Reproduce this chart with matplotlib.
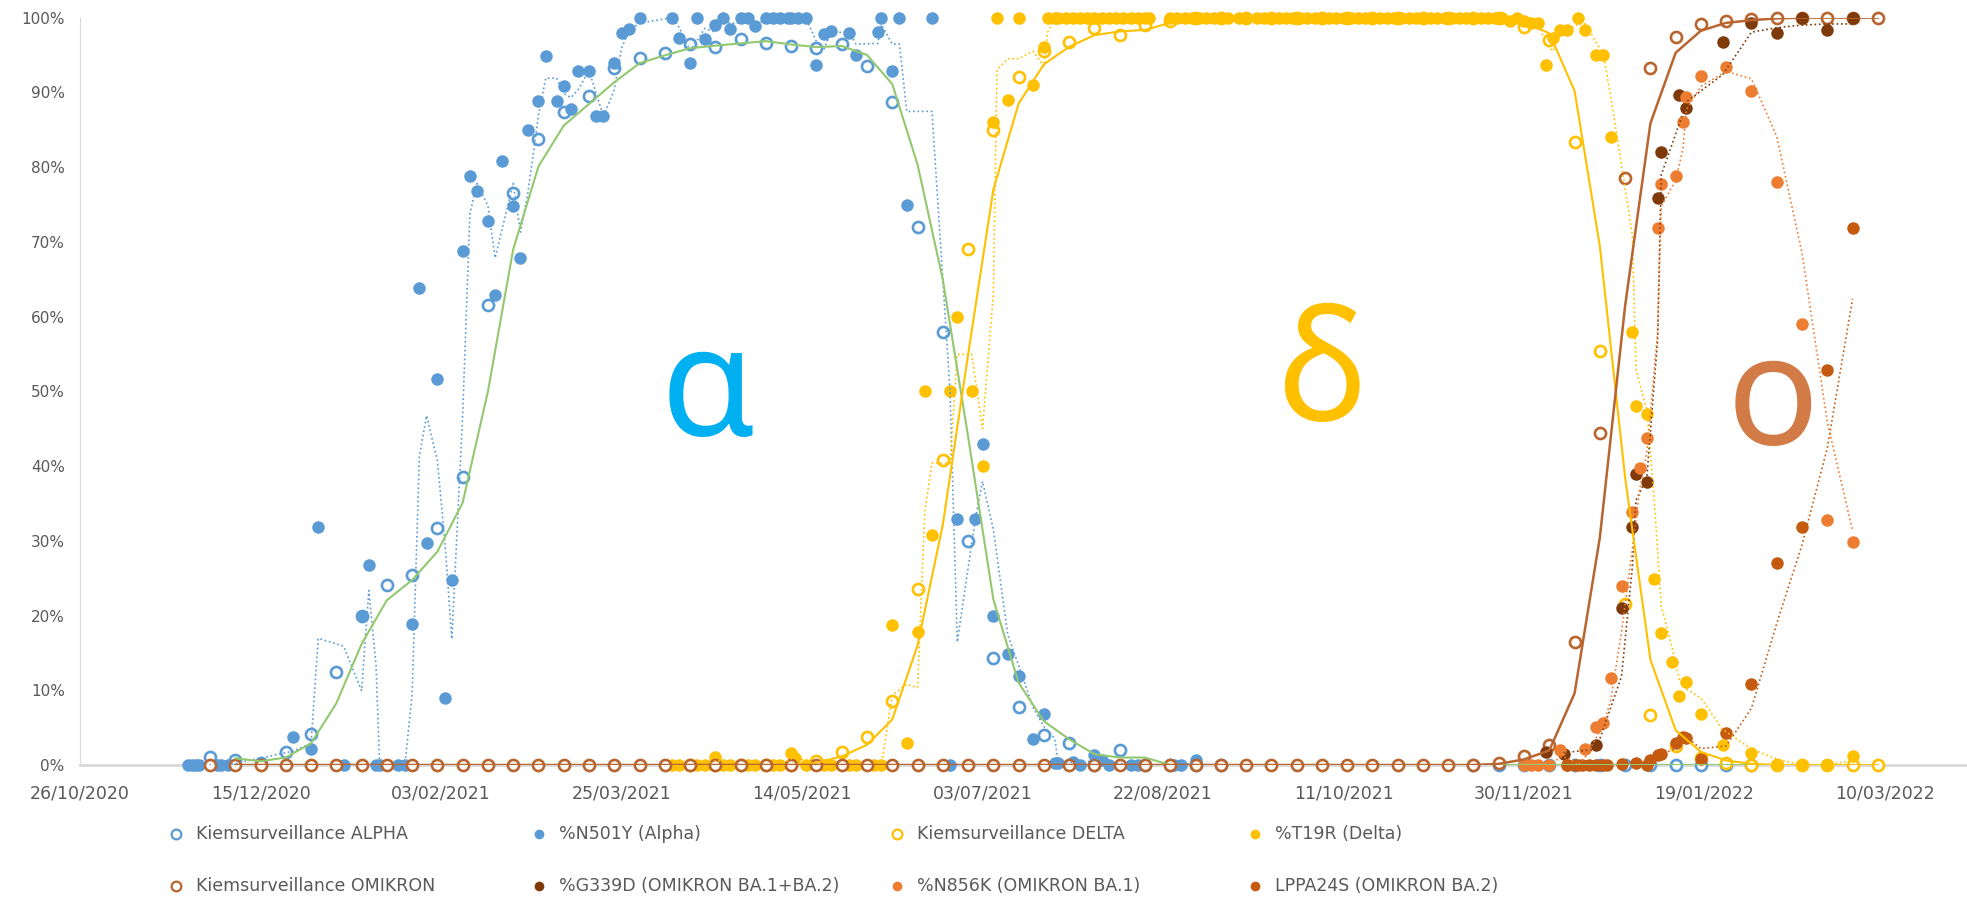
import matplotlib
matplotlib.use('Agg')
import matplotlib.pyplot as plt
import matplotlib.dates as mdates
from matplotlib.lines import Line2D
import numpy as np
import pandas as pd

nan = np.nan

# weekly Kiemsurveillance samples, first one on 01/12/2020
start = pd.Timestamp('2020-12-01')
kiem_dates = pd.date_range(start, periods=67, freq='7D')

kiem_alpha = [1.1, 0.7, 0.3, 1.7, 4.1, 12.4, 20.0, 24.1, 25.4, 31.7,
              38.5, 61.5, 76.5, 83.7, 87.4, 89.5, 93.2, 94.6, 95.3, 96.5,
              96.0, 97.1, 96.6, 96.2, 95.9, 96.5, 93.5, 88.7, 72.0, 57.9,
              30.0, 14.3, 7.7, 4.0, 2.9, 0.0, 2.0, 0, 0, 0,
              0, nan, nan, nan, nan, nan, nan, nan, nan, nan,
              0, 0, 0, 0, 0, 0, 0, 0, 0, 0,
              0, 0, nan, nan, nan, nan, nan]

kiem_delta = [nan, nan, nan, nan, nan, nan, nan, nan, nan, nan,
              nan, nan, nan, nan, nan, nan, nan, nan, nan, 0,
              0, 0, 0, 0, 0.6, 1.7, 3.7, 8.5, 23.5, 40.8,
              69.0, 85.0, 92.0, 95.5, 96.7, 98.6, 97.7, 99.0, 99.6, 100,
              100, 100, 100, 100, 100, 100, 100, 100, 100, 100,
              100, 100, 98.8, 97.0, 83.4, 55.4, 21.5, 6.7, 2.6, 0.9,
              0.3, 0, 0, 0, 0, 0, 0]

kiem_omikron = [0] * 51 + [0.3, 1.2, 2.7, 16.5, 44.4, 78.5, 93.2, 97.4, 99.1,
                           99.5, 99.8, 100, 100, 100, 100, 100]

# (days after 01/12/2020, %)
n501y = [(-6, 0), (-5, 0), (-4, 0), (-3, 0), (2, 0), (3, 0), (5, 0),
         (23, 3.7), (28, 2.1), (30, 31.8), (37, 0), (42, 19.9), (44, 26.8),
         (46, 0), (47, 0), (52, 0), (54, 0), (56, 18.8), (58, 63.8),
         (60, 29.7), (63, 51.7), (65, 8.9), (67, 24.8), (70, 68.8),
         (72, 78.8), (74, 76.8), (77, 72.8), (79, 62.9), (81, 80.8),
         (84, 74.8), (86, 67.8), (88, 84.9), (91, 88.9), (93, 94.9),
         (96, 88.9), (98, 90.8), (100, 87.8), (102, 92.9), (105, 92.9),
         (107, 86.8), (109, 86.8), (112, 93.9), (114, 97.9), (116, 98.5),
         (119, 100), (128, 100), (130, 97.3), (133, 93.9), (135, 100),
         (137, 97.1), (140, 99.0), (142, 100), (144, 98.5), (147, 100),
         (149, 100), (151, 98.9), (154, 100), (156, 100), (158, 100),
         (160, 100), (161, 100), (163, 100), (165, 100), (168, 93.6),
         (170, 97.8), (172, 98.2), (177, 97.9), (179, 95.0), (185, 98.1),
         (186, 100), (189, 92.9), (191, 100), (193, 74.9), (200, 100),
         (205, 0), (207, 32.9), (212, 32.9), (214, 43.0), (217, 20.0),
         (221, 14.8), (224, 11.9), (228, 3.5), (231, 6.8), (234, 0.3),
         (235, 0.3), (239, 0.4), (241, 0), (245, 1.3), (247, 0.7),
         (249, 0), (255, 0), (257, 0), (267, 0), (269, 0), (273, 0.7)]

t19r = [(128, 0), (130, 0), (133, 0), (135, 0), (137, 0), (140, 1.1),
        (142, 0), (144, 0), (147, 0), (149, 0), (151, 0), (154, 0),
        (156, 0), (158, 0), (161, 1.6), (162, 1.0), (165, 0), (168, 0),
        (170, 0), (172, 0), (175, 0), (177, 0), (179, 0), (182, 0),
        (184, 0), (186, 0), (189, 18.7), (193, 2.9), (196, 17.8),
        (198, 50.0), (200, 30.8), (205, 50.0), (207, 59.9), (211, 50.0),
        (214, 40.0), (217, 86.0), (218, 100), (221, 89.0), (224, 100),
        (228, 91.0), (231, 96.0), (232, 100), (234, 100), (235, 100),
        (237, 100), (239, 100), (241, 100), (243, 100), (245, 100),
        (247, 100), (249, 100), (251, 100), (253, 100), (255, 100),
        (257, 100), (259, 100), (260, 100), (266, 100), (268, 100),
        (270, 100), (272, 100), (274, 100), (276, 100), (278, 100),
        (280, 100), (282, 100), (285, 100), (287, 100), (290, 100),
        (292, 100), (294, 100), (296, 100), (298, 100), (300, 100),
        (302, 100), (304, 100), (306, 100), (308, 100), (310, 100),
        (312, 100), (314, 100), (316, 100), (318, 100), (320, 100),
        (322, 100), (324, 100), (326, 100), (328, 100), (330, 100),
        (332, 100), (334, 100), (336, 100), (338, 100), (340, 100),
        (342, 100), (344, 100), (346, 100), (348, 100), (350, 100),
        (352, 100), (354, 100), (356, 100), (358, 100), (360, 99.6),
        (362, 100), (364, 99.6), (366, 99.3), (368, 99.3), (370, 93.7),
        (372, 97.3), (374, 98.3), (376, 98.3), (379, 100), (381, 98.3),
        (384, 95.0), (386, 95.0), (388, 84.0), (394, 57.9), (395, 48.0),
        (398, 47.0), (400, 24.9), (402, 17.7), (405, 13.8), (407, 9.2),
        (409, 11.1), (413, 6.8), (419, 2.7), (427, 1.6), (434, 0),
        (441, 0), (448, 0), (455, 1.2)]

g339d = [(370, 1.8), (375, 1.5), (384, 2.7), (391, 21.0), (394, 31.9),
         (395, 38.9), (398, 37.9), (401, 75.9), (402, 82.0), (407, 89.6),
         (409, 87.9), (419, 96.8), (427, 99.3), (434, 98.0), (441, 100),
         (448, 98.3), (455, 100)]

n856k = [(364, 0), (366, 0), (368, 0), (371, 0), (374, 2.0), (376, 0),
         (379, 0), (381, 2.2), (384, 5.1), (386, 5.6), (388, 11.7),
         (391, 23.9), (394, 33.8), (396, 39.7), (398, 43.8), (401, 71.8),
         (402, 77.7), (406, 78.8), (408, 86.0), (409, 89.4), (413, 92.2),
         (420, 93.4), (427, 90.2), (434, 78.0), (441, 59.0), (448, 32.8),
         (455, 29.9)]

lppa24s = [(376, 0), (378, 0), (380, 0), (382, 0), (384, 0), (386, 0),
           (387, 0), (391, 0.2), (395, 0.3), (398, 0), (399, 0.7),
           (401, 1.4), (402, 1.5), (406, 2.9), (408, 3.8), (409, 3.6),
           (413, 0.8), (420, 4.3), (427, 10.9), (434, 27.0), (441, 31.9),
           (448, 52.9), (455, 71.8)]

tick_dates = pd.date_range('2020-10-26', periods=11, freq='50D')

BLUE = '#5B9BD5'
YELLOW = '#FFC000'
BROWN = '#B8652F'
DARK = '#7F3A0C'
ORANGE = '#ED7D31'
RUST = '#C55A11'
GREEN = '#92C86E'
GREY = '#595959'


def to_xy(pairs):
    d = np.array([p[0] for p in pairs])
    v = np.array([p[1] for p in pairs], dtype=float)
    return start + pd.to_timedelta(d, unit='D'), v


def ma2(v):
    return pd.Series(v, dtype=float).rolling(2).mean().values


fig = plt.figure(figsize=(19.67, 8.98), dpi=100)
ax = fig.add_axes([80 / 1967, 133 / 898, 1887 / 1967, 747.4 / 898])

open_kw = dict(ls='none', marker='o', ms=8, mfc='white', mew=1.9, clip_on=False)
fill_kw = dict(ls='none', marker='o', ms=9, mew=0, clip_on=False)

ax.plot(kiem_dates, kiem_alpha, mec=BLUE, zorder=3, **open_kw)
x, v = to_xy(n501y)
ax.plot(x, v, color=BLUE, zorder=4, **fill_kw)
ax.plot(x, ma2(v), color=BLUE, ls=':', lw=1.2, zorder=12)

ax.plot(kiem_dates, kiem_delta, mec=YELLOW, zorder=5, **open_kw)
x, v = to_xy(t19r)
ax.plot(x, v, color=YELLOW, zorder=6, **fill_kw)
ax.plot(x, ma2(v), color=YELLOW, ls=':', lw=1.2, zorder=12)

ax.plot(kiem_dates, kiem_omikron, mec=BROWN, zorder=7, **open_kw)
for data, col, z in [(g339d, DARK, 8), (n856k, ORANGE, 9), (lppa24s, RUST, 10)]:
    x, v = to_xy(data)
    ax.plot(x, v, color=col, zorder=z, **fill_kw)
    ax.plot(x, ma2(v), color=col, ls=':', lw=1.2, zorder=12)

# moving average (2) of the Kiemsurveillance series
ax.plot(kiem_dates, ma2(kiem_alpha), color=GREEN, lw=1.5, zorder=13)
ax.plot(kiem_dates, ma2(kiem_delta), color=YELLOW, lw=1.5, zorder=13)
ax.plot(kiem_dates, ma2(kiem_omikron), color=BROWN, lw=1.8, zorder=13)

ax.set_xlim(pd.Timestamp('2020-10-26'), pd.Timestamp('2020-10-26') + pd.Timedelta(days=522.7))
ax.set_ylim(0, 100)
ax.set_xticks(tick_dates)
ax.xaxis.set_major_formatter(mdates.DateFormatter('%d/%m/%Y'))
ax.set_yticks(range(0, 101, 10))
ax.set_yticklabels([f'{t}%' for t in range(0, 101, 10)])
ax.tick_params(axis='x', length=0, pad=14, labelsize=12.5, labelcolor=GREY)
ax.tick_params(axis='y', length=0, pad=11, labelsize=11, labelcolor=GREY)
for s in ['top', 'right']:
    ax.spines[s].set_visible(False)
ax.spines['left'].set_color('#D9D9D9')
ax.spines['bottom'].set_color('#D9D9D9')
ax.spines['bottom'].set_linewidth(2)

greek = dict(ha='center', va='center', fontsize=110, family='Noto Sans', fontweight='light', zorder=1)
ax.text(pd.Timestamp('2021-04-18'), 49.5, 'α', color='#00B0F0', **greek)
ax.text(pd.Timestamp('2021-10-05'), 51.5, 'δ', color=YELLOW, **greek)
ax.text(pd.Timestamp('2022-02-07'), 48.3, 'ο', color='#D27B46', **greek)

legend_items = [('Kiemsurveillance ALPHA', BLUE, True), ('%N501Y (Alpha)', BLUE, False),
                ('Kiemsurveillance DELTA', YELLOW, True), ('%T19R (Delta)', YELLOW, False),
                ('Kiemsurveillance OMIKRON', BROWN, True), ('%G339D (OMIKRON BA.1+BA.2)', DARK, False),
                ('%N856K (OMIKRON BA.1)', ORANGE, False), ('LPPA24S (OMIKRON BA.2)', RUST, False)]
col_x = [176, 539, 897, 1255]
row_y = [834, 886]
for i, (label, col, is_open) in enumerate(legend_items):
    px = col_x[i % 4] / 1967
    py = 1 - row_y[i // 4] / 898
    fig.add_artist(Line2D([px], [py], transform=fig.transFigure, marker='o', ms=7,
                          mfc='white' if is_open else col, mec=col, mew=1.6 if is_open else 0))
    fig.text(px + 20 / 1967, py, label, va='center', ha='left', fontsize=12.5, color=GREY)

fig.savefig('out.png', dpi=100)
